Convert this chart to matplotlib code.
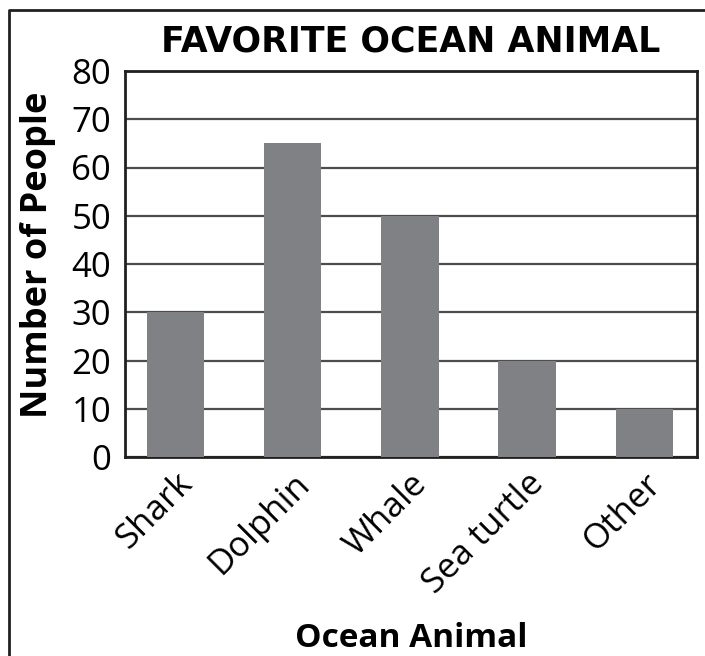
import matplotlib
matplotlib.use('Agg')
from matplotlib import pyplot as plt
from matplotlib.lines import Line2D

animals = ['Shark', 'Dolphin', 'Whale', 'Sea turtle', 'Other']
people = [30, 65, 50, 20, 10]
yticks = [0, 10, 20, 30, 40, 50, 60, 70, 80]

plt.rcParams['font.family'] = ['Open Sans', 'DejaVu Sans']

fig = plt.figure(figsize=(7.05, 6.56), dpi=100)
ax = fig.add_axes([125/705, 1 - 457/656, 572/705, 386/656])

ax.bar(range(len(animals)), people, width=0.49, color='#808184', zorder=3)
ax.set_xlim(-0.43, 4.45)
ax.set_ylim(0, 80)
ax.set_yticks(yticks)
ax.yaxis.grid(True, color='#4d4d4d', linewidth=1.6, zorder=1)
ax.set_axisbelow(True)

ax.set_xticks(range(len(animals)))
ax.set_xticklabels(animals, rotation=45, ha='right', va='top',
                   rotation_mode='anchor', fontsize=25)
ax.tick_params(axis='y', labelsize=25, length=0, pad=10)
ax.tick_params(axis='x', length=0, pad=7)
for s in ax.spines.values():
    s.set_linewidth(2)
    s.set_color('#231f20')

ax.set_title('FAVORITE OCEAN ANIMAL', fontsize=25, fontweight='bold', pad=14,
             family='DejaVu Sans')
ax.set_ylabel('Number of People', fontsize=26, fontweight='bold',
              va='center', ha='center')
ax.yaxis.set_label_coords((38 - 125) / 572, (457 - 255) / 386)
ax.set_xlabel('Ocean Animal', fontsize=24, fontweight='bold', va='baseline')
ax.xaxis.set_label_coords(0.5, (457 - 647) / 386)

# frame around the picture: only its left and top edges are in view
fig.add_artist(Line2D([9/705, 9/705, 1.0], [0.0, 1 - 10/656, 1 - 10/656],
                      transform=fig.transFigure, color='#231f20', linewidth=2))

fig.savefig('out.png', dpi=100)
